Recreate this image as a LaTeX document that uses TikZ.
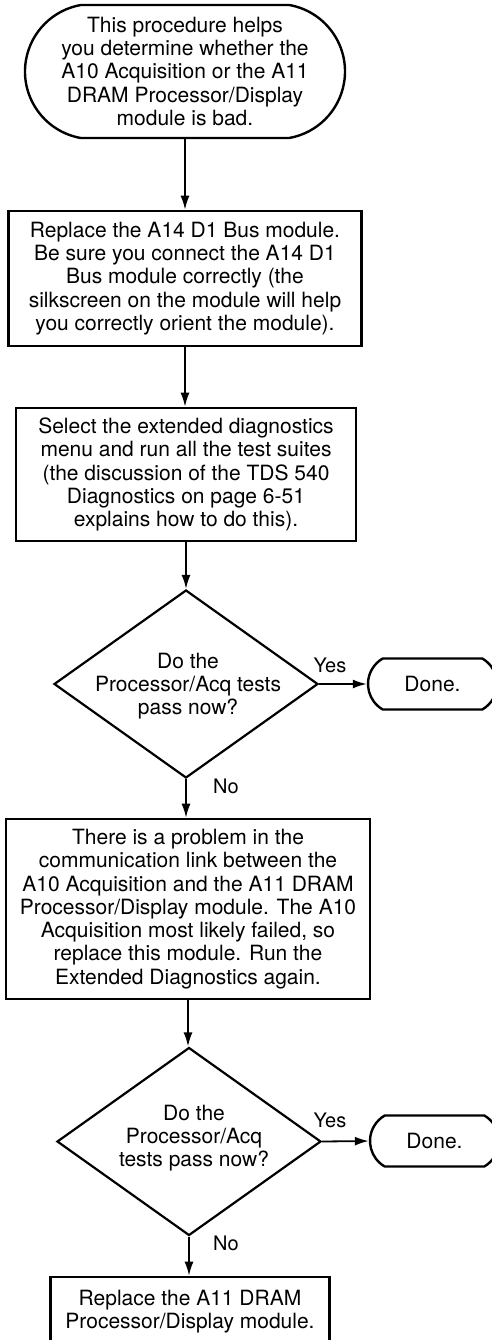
\documentclass[tikz,border=0pt]{standalone}
\usepackage{fontspec}
\setmainfont{TeX Gyre Heros}
\usetikzlibrary{shapes.geometric,shapes.misc,arrows.meta}
\begin{document}
\begin{tikzpicture}[x=1pt,y=-1pt,
  every node/.style={font=\fontsize{21}{23.3}\selectfont, align=center, inner sep=0pt},
  stepbox/.style={draw, line width=2.6pt, rectangle},
  term/.style={draw, line width=2.4pt, rounded rectangle},
  decision/.style={draw, line width=2.2pt, diamond, minimum width=264pt, minimum height=188pt},
  lbl/.style={font=\fontsize{20}{22}\selectfont},
  conn/.style={line width=1.8pt, -{Latex[length=14pt,width=9pt]}}
]
\useasboundingbox (0,0) rectangle (491,1340);

\node[term, minimum width=320pt, minimum height=133pt, rounded rectangle arc length=160] (start) at (185,71.5)
  {This procedure helps\\you determine whether the\\A10 Acquisition or the A11\\DRAM Processor/Display\\module is bad.};

\node[stepbox, minimum width=353pt, minimum height=135pt] (b1) at (185,278.5)
  {Replace the A14 D1 Bus module.\\Be sure you connect the A14 D1\\Bus module correctly (the\\silkscreen on the module will help\\you correctly orient the module).};

\node[stepbox, minimum width=340pt, minimum height=133pt] (b2) at (186,474.5)
  {Select the extended diagnostics\\menu and run all the test suites\\(the discussion of the TDS 540\\Diagnostics on page 6-51\\explains how to do this).};

\node[decision] (d1) at (186,684) {};
\node (d1t) at (188,686) {Do the\\Processor/Acq tests\\pass now?};

\node[term, minimum width=129pt, minimum height=51pt, rounded rectangle arc length=120] (done1) at (432.5,684) {Done.};

\node[stepbox, minimum width=364pt, minimum height=180pt] (b3) at (188,909)
  {There is a problem in the\\communication link between the\\A10 Acquisition and the A11 DRAM\\Processor/Display module. The A10\\Acquisition most likely failed, so\\replace this module. Run the\\Extended Diagnostics again.};

\node[decision] (d2) at (189,1141.5) {};
\node (d2t) at (194,1138) {Do the\\Processor/Acq\\tests pass now?};

\node[term, minimum width=129pt, minimum height=51pt, rounded rectangle arc length=120] (done2) at (434.5,1141) {Done.};

\node[stepbox, minimum width=279pt, minimum height=69pt] (b4) at (190,1311.5)
  {Replace the A11 DRAM\\Processor/Display module.};

\node[lbl] (y1) at (330,665) {Yes};
\node[lbl] (n1) at (226,786) {No};
\node[lbl] (y2) at (330,1120) {Yes};
\node[lbl] (n2) at (226,1243) {No};

\draw[conn] (start.south) -- (start.south |- b1.north);
\draw[conn] (b1.south) -- (b1.south |- b2.north);
\draw[conn] (b2.south) -- (b2.south |- d1.north);
\draw[conn] (d1.east) -- (done1.west);
\draw[conn] (d1.south) -- (d1.south |- b3.north);
\draw[conn] (b3.south) -- (b3.south |- d2.north);
\draw[conn] (d2.east) -- (done2.west);
\draw[conn] (d2.south) -- (d2.south |- b4.north);
\end{tikzpicture}
\end{document}
